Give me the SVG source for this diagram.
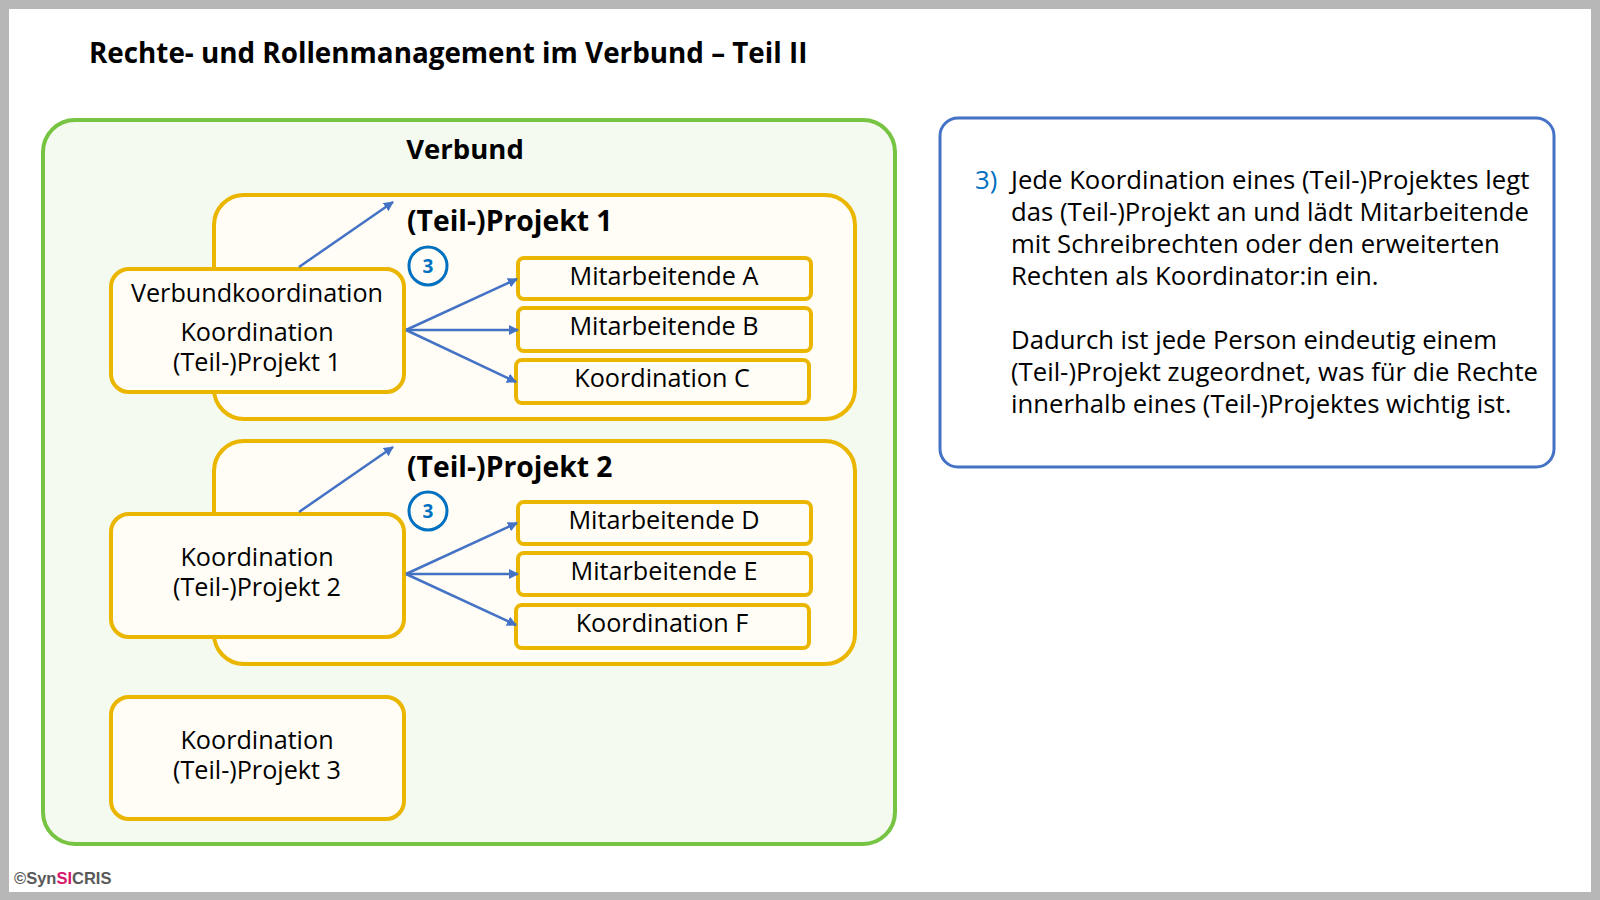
<svg xmlns="http://www.w3.org/2000/svg" width="1600" height="900" viewBox="0 0 1600 900">
<defs>
<marker id="ah" viewBox="0 0 10 10" refX="9" refY="5" markerWidth="4" markerHeight="4" orient="auto" markerUnits="strokeWidth">
<path d="M0,0 L10,5 L0,10 z" fill="#4472C4"/>
</marker>
<style>
.t{font-family:"Open Sans","Liberation Sans",sans-serif;fill:#000}
.node{font-size:25.2px;text-anchor:middle}
.proj{fill:#FFFDF5;stroke:#EAB600;stroke-width:4}
.mit{fill:#FFFDF5;stroke:#EAB600;stroke-width:4}
.hd{font-size:28.3px;font-weight:bold}
.conn{stroke:#4472C4;stroke-width:2.5;fill:none;marker-end:url(#ah)}
.circ{fill:none;stroke:#0070C0;stroke-width:3}
.cn{font-family:"Open Sans","Liberation Sans",sans-serif;font-size:19px;font-weight:bold;fill:#0070C0;text-anchor:middle}
.body{font-size:25.7px}
</style>
</defs>
<rect x="0" y="0" width="1600" height="900" fill="#B8B7B8"/>
<rect x="9" y="9" width="1582" height="883" fill="#FFFFFF"/>
<text class="t" x="89" y="63" font-size="27.8" font-weight="bold">Rechte- und Rollenmanagement im Verbund – Teil II</text>

<g id="verbund">
<rect x="43" y="120" width="852" height="724" rx="32" fill="#F4FAF0" stroke="#76C442" stroke-width="4"/>
<text class="t hd" x="465" y="159" text-anchor="middle" style="font-size:27.5px">Verbund</text>
</g>

<g id="projekt1">
<rect class="proj" x="214" y="195" width="641" height="224" rx="30"/>
<text class="t hd" x="407" y="231">(Teil-)Projekt 1</text>
<circle class="circ" cx="428" cy="266" r="19"/>
<text class="cn" x="428" y="273">3</text>
</g>
<g id="projekt2">
<rect class="proj" x="214" y="441" width="641" height="223" rx="30"/>
<text class="t hd" x="407" y="477">(Teil-)Projekt 2</text>
<circle class="circ" cx="428" cy="511" r="19"/>
<text class="cn" x="428" y="518">3</text>
</g>

<g id="koord1">
<rect class="proj" x="111" y="269" width="293" height="123" rx="18"/>
<text class="t node" x="257" y="302">Verbundkoordination</text>
<text class="t node" x="257" y="341">Koordination<tspan x="257" dy="30">(Teil-)Projekt 1</tspan></text>
</g>
<g id="koord2">
<rect class="proj" x="111" y="514" width="293" height="123" rx="18"/>
<text class="t node" x="257" y="566">Koordination<tspan x="257" dy="30">(Teil-)Projekt 2</tspan></text>
</g>
<g id="koord3">
<rect class="proj" x="111" y="697" width="293" height="122" rx="18"/>
<text class="t node" x="257" y="749">Koordination<tspan x="257" dy="30">(Teil-)Projekt 3</tspan></text>
</g>

<g id="mitA"><rect class="mit" x="518" y="258" width="293" height="41" rx="6"/><text class="t node" x="664" y="285">Mitarbeitende A</text></g>
<g id="mitB"><rect class="mit" x="518" y="308" width="293" height="43" rx="6"/><text class="t node" x="664" y="335">Mitarbeitende B</text></g>
<g id="koordC"><rect class="mit" x="516" y="360" width="293" height="43" rx="6"/><text class="t node" x="662" y="387">Koordination C</text></g>
<g id="mitD"><rect class="mit" x="518" y="502" width="293" height="42" rx="6"/><text class="t node" x="664" y="529">Mitarbeitende D</text></g>
<g id="mitE"><rect class="mit" x="518" y="553" width="293" height="42" rx="6"/><text class="t node" x="664" y="580">Mitarbeitende E</text></g>
<g id="koordF"><rect class="mit" x="516" y="605" width="293" height="43" rx="6"/><text class="t node" x="662" y="632">Koordination F</text></g>

<g id="connectors">
<line class="conn" x1="299" y1="267" x2="393" y2="202"/>
<line class="conn" x1="406" y1="330" x2="517" y2="279"/>
<line class="conn" x1="406" y1="330" x2="518" y2="330"/>
<line class="conn" x1="406" y1="330" x2="516" y2="382"/>
<line class="conn" x1="299" y1="512" x2="393" y2="447"/>
<line class="conn" x1="406" y1="574" x2="517" y2="523"/>
<line class="conn" x1="406" y1="574" x2="518" y2="574"/>
<line class="conn" x1="406" y1="574" x2="516" y2="625"/>
</g>

<g id="info">
<rect x="940" y="118" width="614" height="349" rx="18" fill="#FFFFFF" stroke="#4472C4" stroke-width="3"/>
<text class="t body" x="975" y="189" style="fill:#0070C0">3)</text>
<text class="t body" x="1011" y="189">Jede Koordination eines (Teil-)Projektes legt<tspan x="1011" dy="32">das (Teil-)Projekt an und lädt Mitarbeitende</tspan><tspan x="1011" dy="32">mit Schreibrechten oder den erweiterten</tspan><tspan x="1011" dy="32">Rechten als Koordinator:in ein.</tspan></text>
<text class="t body" x="1011" y="349">Dadurch ist jede Person eindeutig einem<tspan x="1011" dy="32">(Teil-)Projekt zugeordnet, was für die Rechte</tspan><tspan x="1011" dy="32">innerhalb eines (Teil-)Projektes wichtig ist.</tspan></text>
</g>

<text x="14" y="884" font-family="'Liberation Sans',Arial,sans-serif" font-size="16.5" font-weight="bold" fill="#595959">©Syn<tspan fill="#D6156B">SI</tspan>CRIS</text>
</svg>
